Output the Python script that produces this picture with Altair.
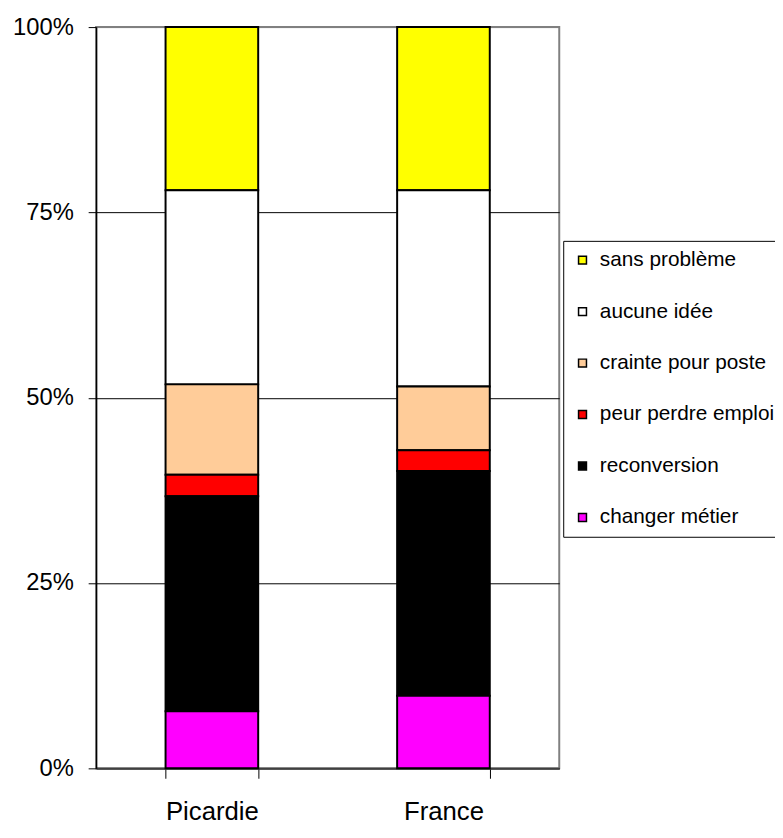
import altair as alt
import pandas as pd

regions = ["Picardie", "France"]
categories = ["sans problème", "aucune idée", "crainte pour poste",
              "peur perdre emploi", "reconversion", "changer métier"]
picardie = [22.0, 26.2, 12.2, 2.9, 29.0, 7.7]
france = [22.0, 26.5, 8.6, 2.8, 30.3, 9.8]
colors = ["#FFFF00", "#FFFFFF", "#FFCC99", "#FF0000", "#000000", "#FF00FF"]
y_ticks = [0, 0.25, 0.5, 0.75, 1.0]

rows = []
for region, vals in zip(regions, [picardie, france]):
    for i, (c, v) in enumerate(zip(categories, vals)):
        rows.append({"region": region, "cat": c, "value": v,
                     "order": len(categories) - 1 - i})
df = pd.DataFrame(rows)

FONT = "Liberation Sans"

chart = alt.Chart(df).mark_bar(stroke="black", strokeWidth=2).encode(
    x=alt.X("region:N", sort=regions, title=None,
            scale=alt.Scale(paddingInner=0.6, paddingOuter=0.3),
            axis=alt.Axis(labelAngle=0, tickBand="extent", tickSize=10,
                          tickColor="black", domainColor="#404040", domainWidth=2,
                          labelFont=FONT, labelFontSize=26, labelColor="black",
                          labelPadding=21, grid=False)),
    y=alt.Y("value:Q", stack="normalize", title=None,
            scale=alt.Scale(domain=[0, 1], nice=False),
            axis=alt.Axis(format="%", values=y_ticks, tickSize=8, tickColor="black",
                          domainColor="black", domainWidth=1.5,
                          labelFont=FONT, labelFontSize=24, labelColor="black",
                          labelPadding=15, grid=True, gridWidth=1,
                          gridColor={"condition": {"test": "datum.value >= 0.99", "value": "#808080"},
                                     "value": "black"})),
    color=alt.Color("cat:N", sort=categories,
                    scale=alt.Scale(domain=categories, range=colors),
                    legend=alt.Legend(orient="none", legendX=472, legendY=216, title=None,
                                      labelFont=FONT, labelFontSize=21, labelColor="black",
                                      labelLimit=0,
                                      symbolType="square", symbolSize=64,
                                      symbolStrokeColor="black", symbolStrokeWidth=1.5,
                                      symbolOpacity=1,
                                      strokeColor="black", fillColor="white",
                                      padding=9, rowPadding=30, labelOffset=7)),
    order=alt.Order("order:Q", sort="ascending"),
).properties(
    width=468, height=749,
    padding={"left": 89, "top": 15, "right": 218, "bottom": 58},
    autosize=alt.AutoSizeParams(type="none"),
).configure_view(stroke="#808080", strokeWidth=2)

chart.save("out.html", embed_options={"renderer": "svg", "actions": False})
